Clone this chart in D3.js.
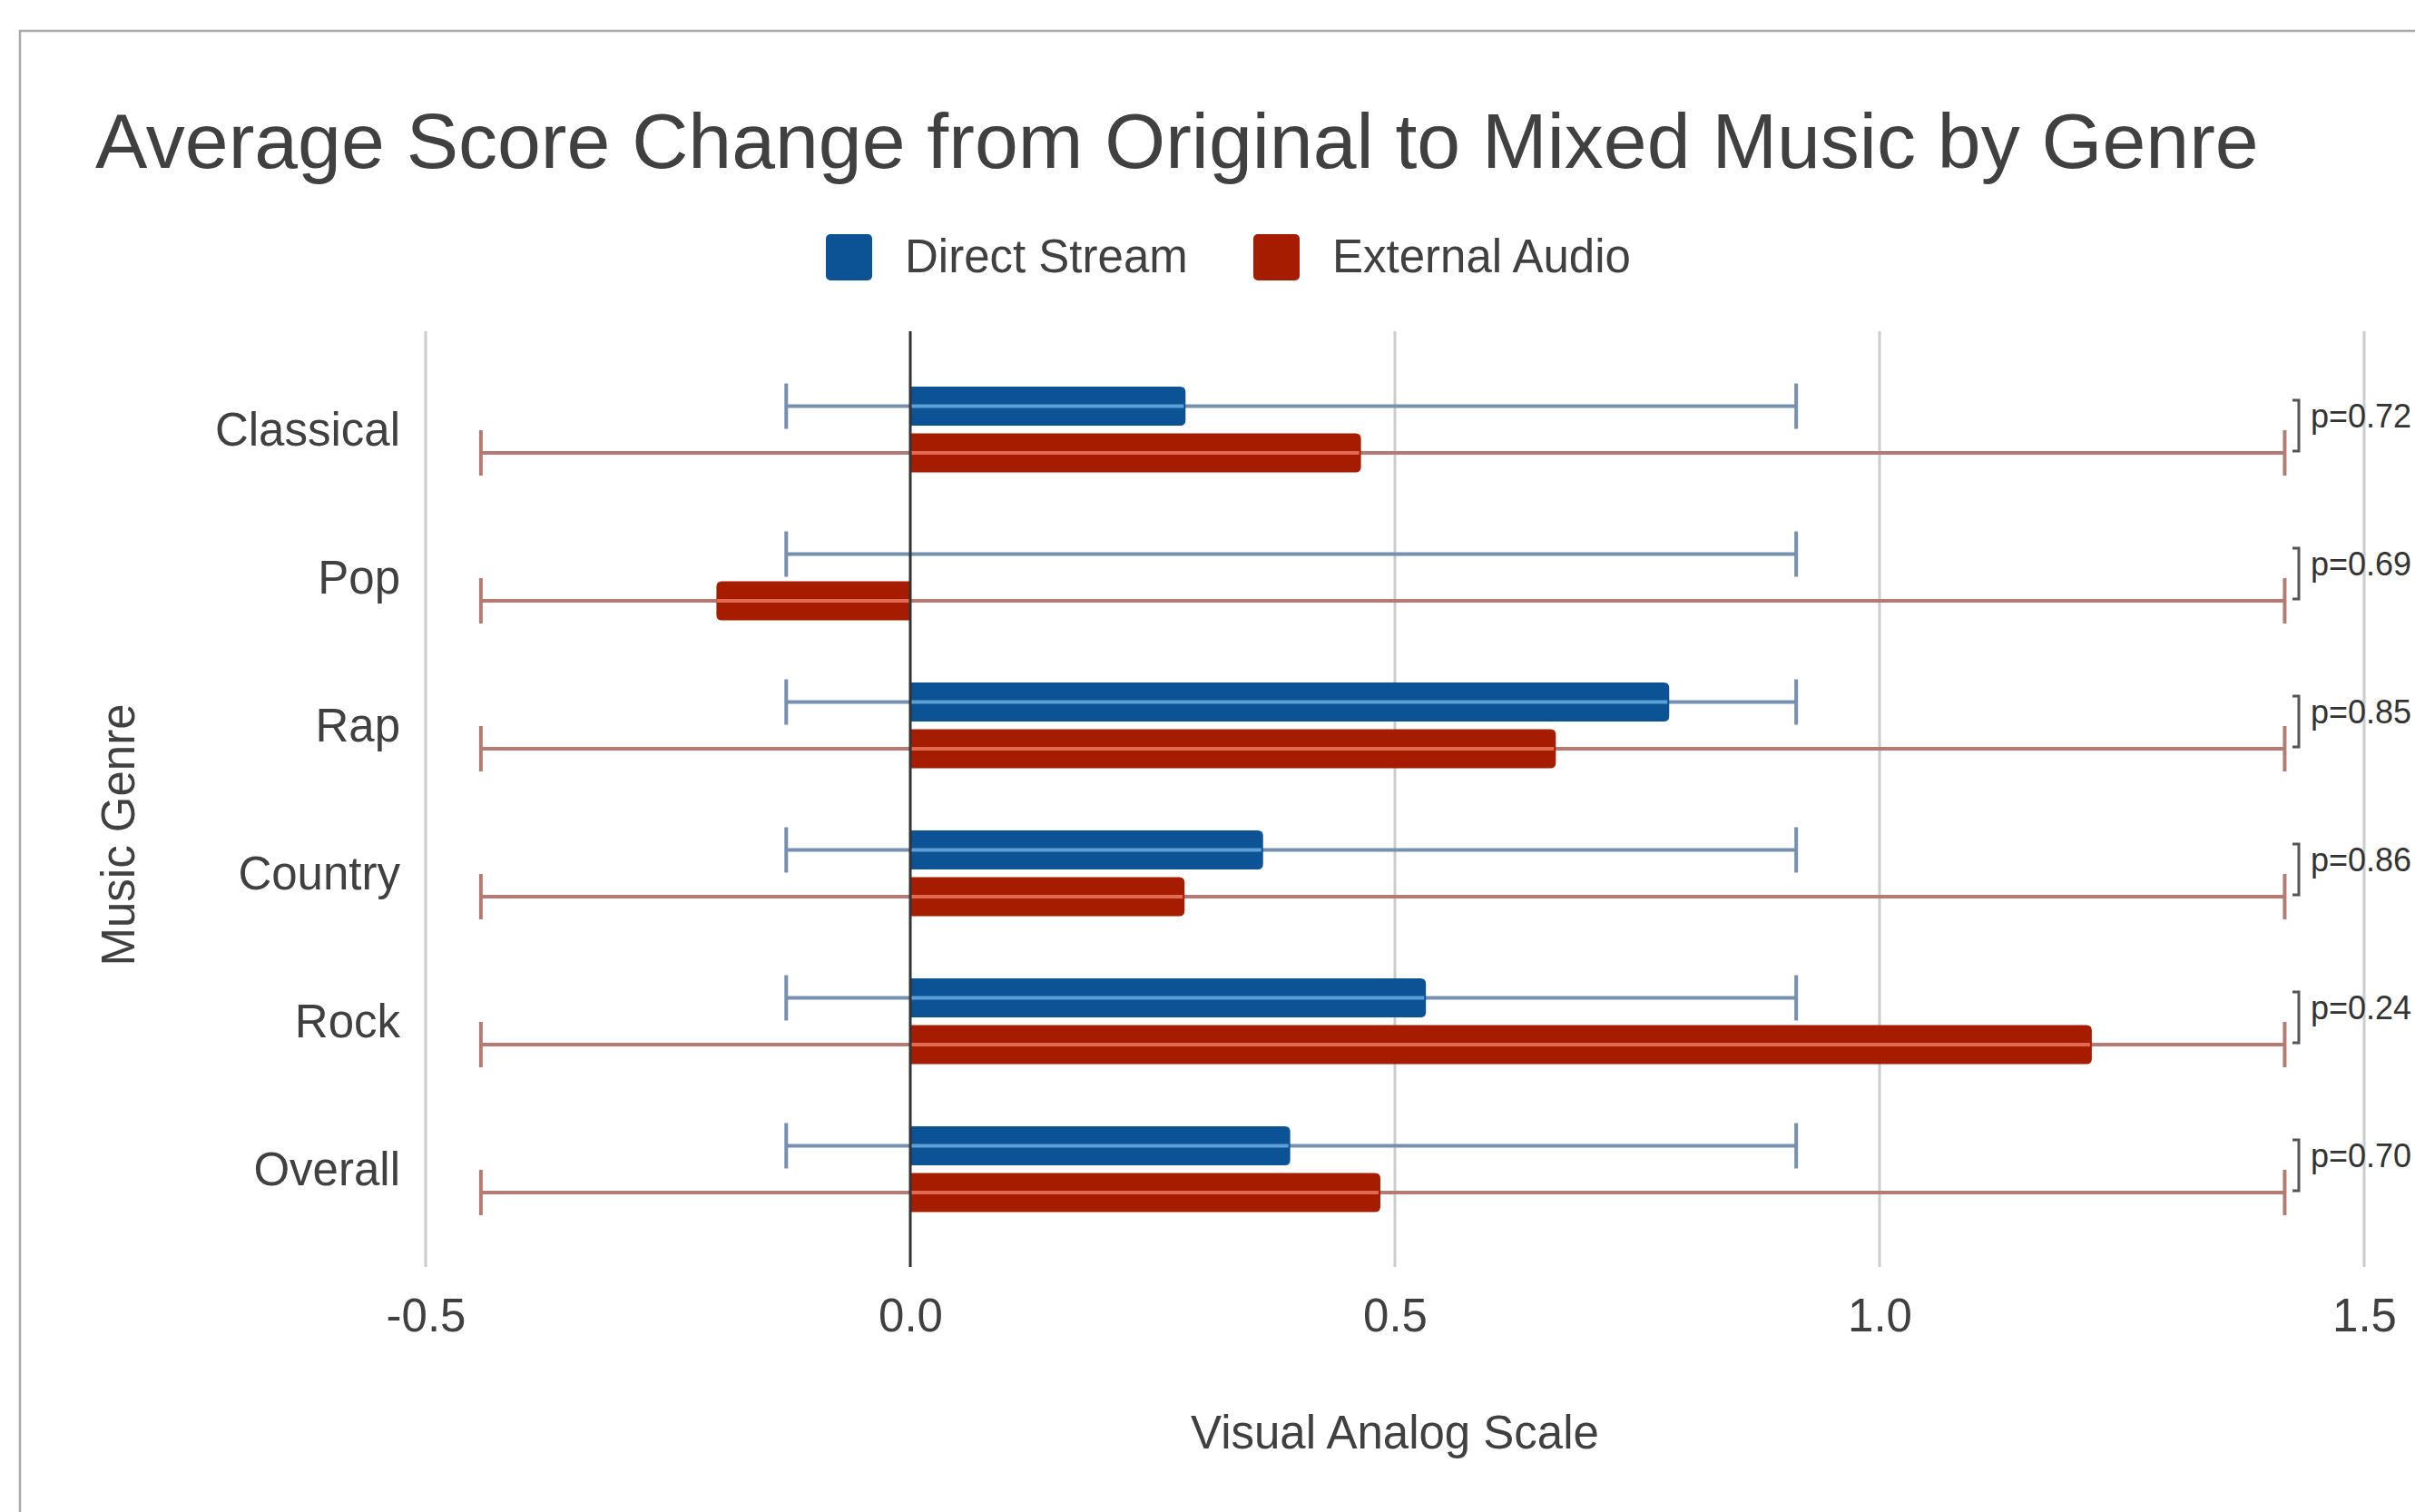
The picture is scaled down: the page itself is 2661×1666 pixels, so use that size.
<!DOCTYPE html>
<html>
<head>
<meta charset="utf-8">
<script src="https://cdn.jsdelivr.net/npm/d3@7"></script>
<style>
  html, body { margin: 0; padding: 0; background: #ffffff; }
  svg { display: block; font-family: "Liberation Sans", Arial, sans-serif; }
</style>
</head>
<body>
<svg id="chart" width="2661" height="1666"></svg>
<script>
// Music genres, top to bottom
const categories = ["Classical", "Pop", "Rap", "Country", "Rock", "Overall"];

// Mean score change (Visual Analog Scale) per genre
const directStream = [0.284, 0, 0.783, 0.364, 0.532, 0.392];
const externalAudio = [0.465, -0.2, 0.666, 0.283, 1.219, 0.485];

// Interval ends drawn as error bars for each genre
const directLow = [-0.128, -0.128, -0.128, -0.128, -0.128, -0.128];
const directHigh = [0.914, 0.914, 0.914, 0.914, 0.914, 0.914];
const externalLow = [-0.443, -0.443, -0.443, -0.443, -0.443, -0.443];
const externalHigh = [1.418, 1.418, 1.418, 1.418, 1.418, 1.418];

// p-values comparing the two listening conditions
const pValues = [0.72, 0.69, 0.85, 0.86, 0.24, 0.70];

// Axis ticks
const xTicks = [-0.5, 0, 0.5, 1.0, 1.5];

const seriesNames = ["Direct Stream", "External Audio"];
const seriesColors = ["#0b5394", "#a61c00"];
const errColors = ["#7590b0", "#b57a72"];
const errInnerColors = ["#5f9fd8", "#e26a52"];

const W = 2661, H = 1666;
const plot = { left: 469, right: 2605, top: 365, bottom: 1396 };
const textColor = "#404040";

const svg = d3.select("#chart");
svg.append("rect").attr("width", W).attr("height", H).attr("fill", "#ffffff");

// Frame around the chart (top and left edges)
svg.append("path")
  .attr("d", `M22,${H} L22,34 L${W},34`)
  .attr("fill", "none").attr("stroke", "#a8a8a8").attr("stroke-width", 2.5);

const x = d3.scaleLinear().domain([-0.5, 1.5]).range([plot.left, plot.right]);
const y = d3.scalePoint().domain(categories).range([plot.top, plot.bottom]).padding(0.663);

const barH = 43;
const offsets = [-25.5, 26];

// Title
svg.append("text")
  .attr("x", 105).attr("y", 185)
  .attr("font-size", 86).attr("fill", textColor)
  .text("Average Score Change from Original to Mixed Music by Genre");

// Legend
const legend = svg.append("g");
const legendItems = [{ sx: 910, tx: 997 }, { sx: 1381, tx: 1468 }];
legendItems.forEach((it, i) => {
  legend.append("rect")
    .attr("x", it.sx).attr("y", 258).attr("width", 51).attr("height", 51)
    .attr("rx", 5).attr("fill", seriesColors[i]);
  legend.append("text")
    .attr("x", it.tx).attr("y", 300)
    .attr("font-size", 51).attr("fill", textColor)
    .text(seriesNames[i]);
});

// Vertical gridlines
svg.append("g").selectAll("line")
  .data(xTicks.filter(d => d !== 0))
  .join("line")
  .attr("x1", d => x(d)).attr("x2", d => x(d))
  .attr("y1", plot.top).attr("y2", plot.bottom)
  .attr("stroke", "#cccccc").attr("stroke-width", 3);

// X axis labels
const xAxis = svg.append("g")
  .attr("transform", `translate(0,${plot.bottom})`)
  .call(d3.axisBottom(x).tickValues(xTicks).tickSize(0).tickFormat(d => d.toFixed(1)));
xAxis.select(".domain").remove();
xAxis.selectAll("text")
  .attr("y", 71).attr("dy", null)
  .attr("font-size", 51).attr("fill", textColor)
  .attr("font-family", "Liberation Sans, Arial, sans-serif");

// Y axis labels
const yAxis = svg.append("g")
  .attr("transform", `translate(441,0)`)
  .call(d3.axisLeft(y).tickSize(0).tickPadding(0));
yAxis.select(".domain").remove();
yAxis.selectAll("text")
  .attr("dy", "0.35em")
  .attr("font-size", 51).attr("fill", textColor)
  .attr("font-family", "Liberation Sans, Arial, sans-serif");

// Axis titles
svg.append("text")
  .attr("x", (plot.left + plot.right) / 2).attr("y", 1596)
  .attr("text-anchor", "middle").attr("font-size", 51).attr("fill", textColor)
  .text("Visual Analog Scale");
svg.append("text")
  .attr("transform", "translate(148,920) rotate(-90)")
  .attr("text-anchor", "middle").attr("font-size", 51).attr("fill", textColor)
  .text("Music Genre");

// Build per-series records
const series = [
  { values: directStream, low: directLow, high: directHigh },
  { values: externalAudio, low: externalLow, high: externalHigh }
];
const rows = [];
series.forEach((s, si) => {
  categories.forEach((c, ci) => {
    rows.push({
      si, cat: c, v: s.values[ci], lo: s.low[ci], hi: s.high[ci],
      cy: y(c) + offsets[si]
    });
  });
});

// Error bar lines (under the bars)
const err = svg.append("g");
err.selectAll("line.err")
  .data(rows).join("line").attr("class", "err")
  .attr("x1", d => x(d.lo)).attr("x2", d => x(d.hi))
  .attr("y1", d => d.cy).attr("y2", d => d.cy)
  .attr("stroke", d => errColors[d.si]).attr("stroke-width", 4);
err.selectAll("line.capLo")
  .data(rows).join("line").attr("class", "capLo")
  .attr("x1", d => x(d.lo)).attr("x2", d => x(d.lo))
  .attr("y1", d => d.cy - 25).attr("y2", d => d.cy + 25)
  .attr("stroke", d => errColors[d.si]).attr("stroke-width", 4);
err.selectAll("line.capHi")
  .data(rows).join("line").attr("class", "capHi")
  .attr("x1", d => x(d.hi)).attr("x2", d => x(d.hi))
  .attr("y1", d => d.cy - 25).attr("y2", d => d.cy + 25)
  .attr("stroke", d => errColors[d.si]).attr("stroke-width", 4);

// Bar with rounded corners at the value end
function barPath(v, cy) {
  const x0 = x(0), x1 = x(v);
  const top = cy - barH / 2, bot = cy + barH / 2;
  const len = Math.abs(x1 - x0);
  if (len < 0.5) return "";
  const r = Math.min(6, len / 2);
  if (x1 >= x0) {
    return `M${x0},${top} L${x1 - r},${top} Q${x1},${top} ${x1},${top + r} ` +
           `L${x1},${bot - r} Q${x1},${bot} ${x1 - r},${bot} L${x0},${bot} Z`;
  }
  return `M${x0},${top} L${x1 + r},${top} Q${x1},${top} ${x1},${top + r} ` +
         `L${x1},${bot - r} Q${x1},${bot} ${x1 + r},${bot} L${x0},${bot} Z`;
}

svg.append("g").selectAll("path")
  .data(rows).join("path")
  .attr("d", d => barPath(d.v, d.cy))
  .attr("fill", d => seriesColors[d.si]);

// Error line segment where it crosses the bar
svg.append("g").selectAll("line")
  .data(rows.filter(d => d.v !== 0)).join("line")
  .attr("x1", d => x(Math.max(Math.min(0, d.v), d.lo)))
  .attr("x2", d => x(Math.min(Math.max(0, d.v), d.hi)) - (d.v > 0 ? 2 : -2))
  .attr("y1", d => d.cy).attr("y2", d => d.cy)
  .attr("stroke", d => errInnerColors[d.si]).attr("stroke-width", 4);

// Zero baseline
svg.append("line")
  .attr("x1", x(0)).attr("x2", x(0))
  .attr("y1", plot.top).attr("y2", plot.bottom)
  .attr("stroke", "#333333").attr("stroke-width", 3);

// p-value brackets and labels
const pg = svg.append("g");
const fmtP = d3.format(".2f");
categories.forEach((c, i) => {
  const cy = y(c);
  const bx = 2533, t = cy - 32, b = cy + 24;
  pg.append("path")
    .attr("d", `M${bx - 7},${t} L${bx},${t} L${bx},${b} L${bx - 7},${b}`)
    .attr("fill", "none").attr("stroke", "#555555").attr("stroke-width", 3);
  pg.append("text")
    .attr("x", 2546).attr("y", cy - 2)
    .attr("font-size", 36).attr("fill", "#333333")
    .text("p=" + fmtP(pValues[i]));
});
</script>
</body>
</html>
